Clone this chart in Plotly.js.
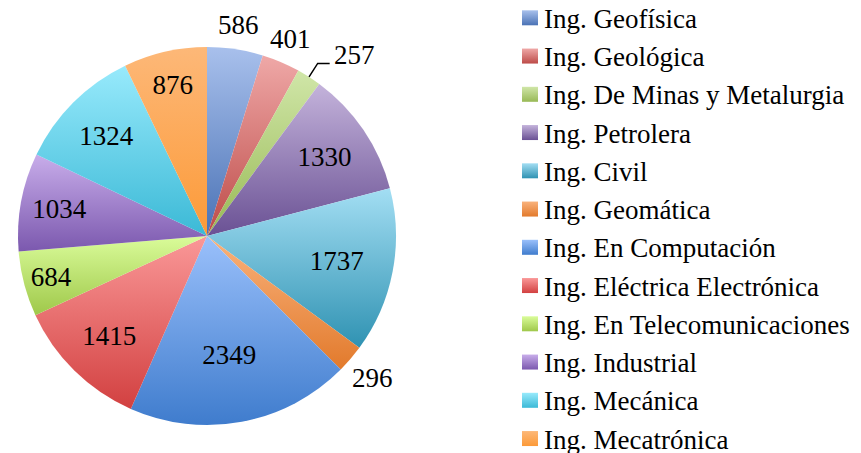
<!DOCTYPE html>
<html>
<head>
<meta charset="utf-8">
<script src="https://cdn.plot.ly/plotly-3.0.1.min.js"></script>
<style>
html,body{margin:0;padding:0;background:#fff;}
#chart{width:861px;height:453px;}
</style>
</head>
<body>
<div id="chart"></div>
<script>
// ---- data ----
var labels = ["Ing. Geofísica","Ing. Geológica","Ing. De Minas y Metalurgia","Ing. Petrolera","Ing. Civil","Ing. Geomática","Ing. En Computación","Ing. Eléctrica Electrónica","Ing. En Telecomunicaciones","Ing. Industrial","Ing. Mecánica","Ing. Mecatrónica"];
var values = [586,401,257,1330,1737,296,2349,1415,684,1034,1324,876];

// ---- style ----
var colors      = ["#86a3da","#dc8282","#b3d07a","#9882b8","#6bbcd6","#ee9450","#6d9de6","#e86c6c","#c2e47a","#a184cc","#66d2ea","#fdab5a"];
var colorsLight = ["#a8c0ec","#efa8a7","#d0e6a8","#c4b3db","#a3def3","#f9b27c","#9ac0fb","#fa9898","#dafc9a","#c8adea","#98eafc","#fdb878"];
var colorsDark  = ["#4a72b5","#bd4b48","#98b955","#6a5194","#2f92b2","#e27a2c","#3f7ccd","#d24040","#9fc84a","#7b58ae","#3bb9d6","#fc9a38"];
var labelMode   = ["out","out","leader","in","in","out","in","in","in","in","in","in"];

var W = 861, H = 453;
var CX = 207, CY = 236, R = 189;
var FONT = "Liberation Serif";
var FS = 27;

var texts = values.map(function(v, i){ return labelMode[i] === "in" ? String(v) : ""; });

var trace = {
  type: "pie",
  labels: labels,
  values: values,
  text: texts,
  textinfo: "text",
  sort: false,
  direction: "clockwise",
  marker: {colors: colors},
  textposition: "inside",
  insidetextorientation: "horizontal",
  textfont: {family: FONT, size: FS, color: "#000"},
  domain: {x: [(CX-R)/W, (CX+R)/W], y: [(H-CY-R)/H, (H-CY+R)/H]}
};

function px2paper(x, y){ return [x/W, 1 - y/H]; }

var shapes = [], annotations = [];

labels.forEach(function(lab, i){
  var cy = 17.8 + 38.25*i;
  shapes.push({type:"rect", xref:"paper", yref:"paper",
    x0: 522/W, x1: 538/W, y0: 1-(cy+7.5)/H, y1: 1-(cy-7.5)/H,
    fillcolor: colors[i], line:{width:0}});
  annotations.push({xref:"paper", yref:"paper", x: 542/W, y: 1-(cy+1)/H,
    xanchor:"left", yanchor:"middle", showarrow:false, text: lab,
    font:{family: FONT, size: FS, color:"#000"}});
});

var total = values.reduce(function(a,b){return a+b;}, 0);
var cum = 0;
values.forEach(function(v, i){
  var th = 2*Math.PI*(cum + v/2)/total;
  cum += v;
  var sx = Math.sin(th), sy = -Math.cos(th);
  if (labelMode[i] === "out") {
    var hw = 20, hh = 10, gap = 14;
    var ext = Math.min(Math.abs(sx) > 1e-6 ? hw/Math.abs(sx) : 1e9, Math.abs(sy) > 1e-6 ? hh/Math.abs(sy) : 1e9);
    var r = R + gap + ext;
    var p = px2paper(CX + r*sx, CY + r*sy);
    annotations.push({xref:"paper", yref:"paper", x:p[0], y:p[1], xanchor:"center", yanchor:"middle",
      showarrow:false, text:String(v), font:{family:FONT, size:FS, color:"#000"}});
  } else if (labelMode[i] === "leader") {
    var ex = CX + R*sx, ey = CY + R*sy;
    var bx = CX + (R+16)*sx, by = CY + (R+16)*sy;
    var hx = bx + 12*(sx >= 0 ? 1 : -1), hy = by;
    var a = px2paper(ex, ey), b = px2paper(bx, by), c = px2paper(hx, hy);
    shapes.push({type:"path", xref:"paper", yref:"paper",
      path: "M " + a[0] + "," + a[1] + " L " + b[0] + "," + b[1] + " L " + c[0] + "," + c[1],
      line:{color:"#000", width:1.5}});
    var t = px2paper(hx + 2*(sx >= 0 ? 1 : -1), hy - 8);
    annotations.push({xref:"paper", yref:"paper", x:t[0], y:t[1], xanchor: sx >= 0 ? "left" : "right", yanchor:"middle",
      showarrow:false, text:String(v), font:{family:FONT, size:FS, color:"#000"}});
  }
});

var layout = {
  width: W, height: H,
  margin: {l:0, r:0, t:0, b:0},
  font: {family: FONT},
  showlegend: false,
  shapes: shapes,
  annotations: annotations
};

Plotly.newPlot("chart", [trace], layout, {displayModeBar:false}).then(function(gd){
  var ns = "http://www.w3.org/2000/svg";
  var svg = gd.querySelector("svg.main-svg");
  var defs = document.createElementNS(ns, "defs");
  svg.insertBefore(defs, svg.firstChild);
  colors.forEach(function(c, i){
    var g = document.createElementNS(ns, "linearGradient");
    g.setAttribute("id", "sliceGrad" + i);
    g.setAttribute("x1", "0"); g.setAttribute("y1", "0");
    g.setAttribute("x2", "0"); g.setAttribute("y2", "1");
    [[0, colorsLight[i]], [1, colorsDark[i]]].forEach(function(s){
      var st = document.createElementNS(ns, "stop");
      st.setAttribute("offset", s[0]);
      st.setAttribute("stop-color", s[1]);
      g.appendChild(st);
    });
    defs.appendChild(g);
  });
  gd.querySelectorAll("g.slice path.surface").forEach(function(p, i){ if (i < colors.length) p.style.fill = "url(#sliceGrad" + i + ")"; });
  gd.querySelectorAll("g.shapelayer path").forEach(function(p, i){ if (i < colors.length) p.style.fill = "url(#sliceGrad" + i + ")"; });
});
</script>
</body>
</html>
